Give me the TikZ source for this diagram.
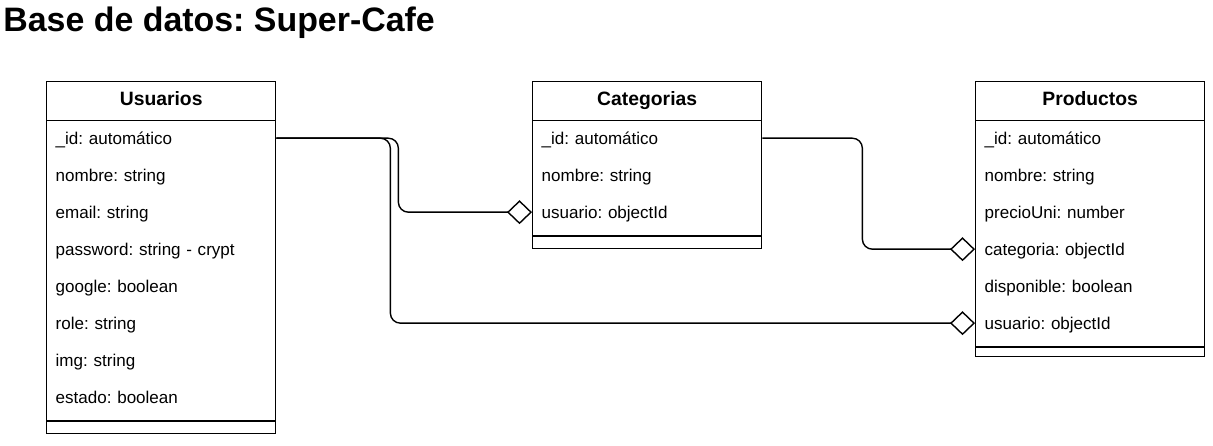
\documentclass[tikz,border=0pt]{standalone}
\usepackage{fontspec}
\setmainfont{Liberation Sans}
\usetikzlibrary{arrows.meta, matrix}
\frenchspacing
\tikzset{tabla/.style = {%
    matrix of nodes,
    nodes in empty cells,
    nodes={inner xsep=0.18cm, inner ysep=0pt,
           text width=4.22cm, minimum height=0.74cm,
           text height=2.7mm, text depth=0.3mm,
           align=left, anchor=center,
           font=\fontsize{9.7}{11}\selectfont},
    row 1/.style={nodes={minimum height=0.76cm, align=center,
           text height=2.8mm, text depth=0.8mm,
           font=\fontsize{11}{13}\selectfont\bfseries}},
    row sep=0pt,
    anchor=north west,
    draw, line width=0.8pt, inner sep=0pt},
  relacion/.style = {line width=0.8pt, rounded corners=0.2cm,
    -{Diamond[open, length=0.5cm, width=0.48cm]}},
  linea/.style = {line width=0.8pt},
  titulo/.style = {anchor=base west, inner sep=0pt,
    font=\fontsize{19.3}{23}\selectfont\bfseries}}

\begin{document}
\frenchspacing
\begin{tikzpicture}[x=0.02cm, y=-0.02cm]
\useasboundingbox (0,0) rectangle (1213,446);

\node[titulo] (titulo) at (3,32) {Base de datos: Super-Cafe};

% tablas
\matrix (usuarios) [tabla, row 10/.style={nodes={minimum height=0.36cm}}] at (46,81)
{
Usuarios                 \\
\_id: automático         \\
nombre: string           \\
email: string            \\
password: string - crypt \\
google: boolean          \\
role: string             \\
img: string              \\
estado: boolean          \\
                         \\
};
\matrix (categorias) [tabla, row 5/.style={nodes={minimum height=0.36cm}}] at (532,81)
{
Categorias               \\
\_id: automático         \\
nombre: string           \\
usuario: objectId        \\
                         \\
};
\matrix (productos) [tabla, row 8/.style={nodes={minimum height=0.24cm}}] at (975,81)
{
Productos                \\
\_id: automático         \\
nombre: string           \\
precioUni: number        \\
categoria: objectId      \\
disponible: boolean      \\
usuario: objectId        \\
                         \\
};

\draw[linea] (usuarios-1-1.south west) -- (usuarios-1-1.south east);
\draw[linea] ([yshift=-0.12cm]usuarios-10-1.north west) -- ([yshift=-0.12cm]usuarios-10-1.north east);
\draw[linea] (categorias-1-1.south west) -- (categorias-1-1.south east);
\draw[linea] ([yshift=-0.12cm]categorias-5-1.north west) -- ([yshift=-0.12cm]categorias-5-1.north east);
\draw[linea] (productos-1-1.south west) -- (productos-1-1.south east);
\draw[linea] ([yshift=-0.12cm]productos-8-1.north west) -- ([yshift=-0.12cm]productos-8-1.north east);

% relaciones
\draw[relacion] (usuarios-2-1.east) -- ++(122,0) |- (categorias-4-1.west);
\draw[relacion] (usuarios-2-1.east) -- ++(114,0) |- (productos-7-1.west);
\draw[relacion] (categorias-2-1.east) -- ++(100,0) |- (productos-5-1.west);
\end{tikzpicture}
\end{document}
